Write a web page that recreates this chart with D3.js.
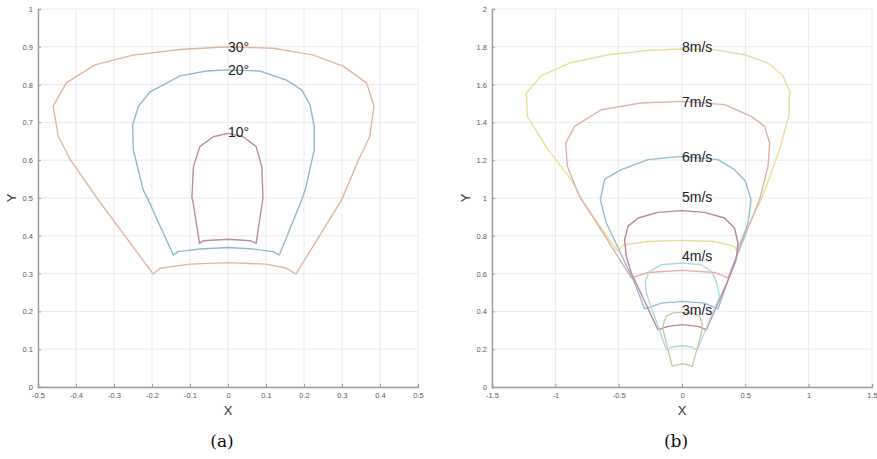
<!DOCTYPE html>
<html>
<head>
<meta charset="utf-8">
<script src="https://cdn.jsdelivr.net/npm/d3@7"></script>
<style>
body{margin:0;background:#fff;}
svg{display:block;}
</style>
</head>
<body>
<svg id="chart" width="877" height="459"></svg>
<script>
// ---------- data: panel (a) ----------
const ticksAX = [-0.5,-0.4,-0.3,-0.2,-0.1,0,0.1,0.2,0.3,0.4,0.5];
const ticksAY = [0,0.1,0.2,0.3,0.4,0.5,0.6,0.7,0.8,0.9,1];
const labelsA = ["30°","20°","10°"];
const labelYA = [0.9,0.839,0.675];
const curve30 = [[-0.197,0.299],[-0.345,0.5],[-0.414,0.6],[-0.447,0.664],[-0.46,0.743],[-0.425,0.805],[-0.35,0.852],[-0.25,0.878],[-0.126,0.893],[0,0.9],[0.119,0.896],[0.225,0.878],[0.303,0.849],[0.365,0.804],[0.384,0.743],[0.373,0.662],[0.343,0.6],[0.299,0.495],[0.179,0.299],[0.154,0.314],[0.1,0.325],[0,0.329],[-0.1,0.325],[-0.179,0.314]];
const curve20 = [[-0.144,0.349],[-0.21,0.495],[-0.223,0.521],[-0.249,0.627],[-0.251,0.693],[-0.236,0.742],[-0.205,0.781],[-0.126,0.823],[-0.056,0.836],[0,0.839],[0.084,0.836],[0.154,0.812],[0.194,0.786],[0.216,0.746],[0.227,0.689],[0.227,0.627],[0.203,0.521],[0.194,0.495],[0.135,0.349],[0.119,0.358],[0.067,0.365],[0,0.369],[-0.074,0.365],[-0.131,0.358]];
const curve10 = [[-0.075,0.38],[-0.093,0.495],[-0.095,0.5],[-0.091,0.583],[-0.074,0.636],[-0.039,0.662],[0,0.671],[0.04,0.662],[0.074,0.636],[0.089,0.583],[0.092,0.5],[0.074,0.38],[0.058,0.387],[0,0.391],[-0.065,0.387]];
const colorsA = ["#e2b59f","#8fbccb","#bd8ba3"];

// ---------- data: panel (b) ----------
const ticksBX = [-1.5,-1,-0.5,0,0.5,1,1.5];
const ticksBY = [0,0.2,0.4,0.6,0.8,1,1.2,1.4,1.6,1.8,2];
const labelsB = ["8m/s","7m/s","6m/s","5m/s","4m/s","3m/s"];
const labelYB = [1.797,1.506,1.217,1.007,0.695,0.405];
const speed8 = [[-0.51,0.72],[-0.795,0.992],[-0.874,1.097],[-1.058,1.256],[-1.221,1.432],[-1.229,1.556],[-1.11,1.647],[-0.887,1.714],[-0.584,1.758],[-0.268,1.781],[0,1.788],[0.258,1.785],[0.494,1.758],[0.679,1.714],[0.797,1.647],[0.849,1.564],[0.845,1.441],[0.77,1.256],[0.665,1.061],[0.626,0.992],[0.428,0.726],[0.415,0.744],[0.258,0.77],[0,0.776],[-0.268,0.77],[-0.453,0.753]];
const speed7 = [[-0.4,0.577],[-0.6,0.79],[-0.808,1.008],[-0.905,1.167],[-0.918,1.291],[-0.848,1.379],[-0.637,1.467],[-0.321,1.503],[0,1.511],[0.336,1.494],[0.547,1.432],[0.652,1.379],[0.692,1.291],[0.679,1.167],[0.613,0.992],[0.363,0.577],[0.258,0.606],[0,0.617],[-0.268,0.606]];
const speed6 = [[-0.295,0.413],[-0.374,0.55],[-0.597,0.868],[-0.645,0.99],[-0.61,1.1],[-0.479,1.15],[-0.268,1.203],[0,1.22],[0.284,1.203],[0.415,1.15],[0.5,1.09],[0.545,0.99],[0.521,0.868],[0.284,0.413],[0.178,0.444],[0,0.453],[-0.163,0.444]];
const speed5 = [[-0.19,0.303],[-0.4,0.603],[-0.44,0.691],[-0.453,0.779],[-0.426,0.85],[-0.347,0.894],[-0.19,0.924],[0,0.933],[0.178,0.924],[0.336,0.894],[0.415,0.841],[0.442,0.762],[0.428,0.674],[0.376,0.585],[0.192,0.303],[0.126,0.321],[0,0.33],[-0.11,0.321]];
const speed4 = [[-0.124,0.197],[-0.282,0.497],[-0.29,0.56],[-0.256,0.612],[-0.163,0.647],[0,0.656],[0.152,0.647],[0.231,0.612],[0.27,0.56],[0.297,0.479],[0.12,0.197],[0.073,0.212],[0,0.218],[-0.084,0.212]];
const speed3 = [[-0.077,0.109],[-0.15,0.303],[-0.145,0.339],[-0.124,0.374],[-0.071,0.392],[0,0.395],[0.087,0.392],[0.139,0.374],[0.158,0.339],[0.16,0.303],[0.081,0.109],[0.047,0.118],[0,0.123],[-0.032,0.118]];
const colorsB = ["#e8de9c","#e1b0a8","#92bfd3","#bd84a0","#b0dadf","#cccb9f"];

const svg = d3.select("#chart");
svg.append("rect").attr("width",877).attr("height",459).attr("fill","#fff");

function panel(opt){
  const g = svg.append("g");
  const x = d3.scaleLinear().domain(opt.xd).range([opt.x0, opt.x1]);
  const y = d3.scaleLinear().domain(opt.yd).range([opt.y1, opt.y0]);
  // grid
  g.append("g").selectAll("line").data(opt.tx).join("line")
    .attr("x1",d=>x(d)).attr("x2",d=>x(d)).attr("y1",opt.y0).attr("y2",opt.y1)
    .attr("stroke","#e9e9e9").attr("stroke-width",1);
  g.append("g").selectAll("line").data(opt.ty).join("line")
    .attr("y1",d=>y(d)).attr("y2",d=>y(d)).attr("x1",opt.x0).attr("x2",opt.x1)
    .attr("stroke","#e9e9e9").attr("stroke-width",1);
  // axes
  const ax = g.append("g").attr("transform",`translate(0,${opt.y1})`)
    .call(d3.axisBottom(x).tickValues(opt.tx).tickSize(-3).tickPadding(6).tickFormat(d=>String(d)));
  const ay = g.append("g").attr("transform",`translate(${opt.x0},0)`)
    .call(d3.axisLeft(y).tickValues(opt.ty).tickSize(-3).tickPadding(5).tickFormat(d=>String(d)));
  [ax,ay].forEach(a=>{
    a.select(".domain").attr("stroke","#9c9c9c").attr("stroke-width",1.4);
    a.selectAll(".tick line").attr("stroke","#9c9c9c");
    a.selectAll("text").attr("fill","#5a5a5a").style("font-family","Liberation Sans, Arial, sans-serif").style("font-size","7.5px");
  });
  // curves
  const line = d3.line().x(d=>x(d[0])).y(d=>y(d[1])).curve(d3.curveLinearClosed);
  opt.curves.forEach((c,i)=>{
    g.append("path").attr("d",line(c)).attr("fill","none")
      .attr("stroke",opt.colors[i]).attr("stroke-width",1.4).attr("stroke-linejoin","round");
  });
  // curve labels
  opt.labels.forEach((t,i)=>{
    g.append("text").attr("x",x(0)).attr("y",y(opt.labelY[i])).attr("dy","0.36em")
      .attr("fill","#222").style("font-family","Liberation Sans, Arial, sans-serif")
      .style("font-size","14px").text(t);
  });
  // axis titles
  g.append("text").attr("x",(opt.x0+opt.x1)/2).attr("y",415).attr("text-anchor","middle")
    .attr("fill","#333").style("font-family","Liberation Sans, Arial, sans-serif").style("font-size","13px").text("X");
  g.append("text").attr("transform",`translate(${opt.x0-22},${(opt.y0+opt.y1)/2}) rotate(-90)`)
    .attr("text-anchor","middle").attr("fill","#333")
    .style("font-family","Liberation Sans, Arial, sans-serif").style("font-size","13px").text("Y");
  // caption
  g.append("text").attr("x",x(0)-6).attr("y",447).attr("text-anchor","middle")
    .attr("fill","#111").style("font-family","DejaVu Serif, Liberation Serif, serif").style("font-size","17px").text(opt.caption);
}

panel({x0:38,x1:418,y0:9,y1:387,xd:[-0.5,0.5],yd:[0,1],tx:ticksAX,ty:ticksAY,
  curves:[curve30,curve20,curve10],colors:colorsA,labels:labelsA,labelY:labelYA,caption:"(a)"});
panel({x0:492,x1:872,y0:9,y1:387,xd:[-1.5,1.5],yd:[0,2],tx:ticksBX,ty:ticksBY,
  curves:[speed8,speed7,speed6,speed5,speed4,speed3],colors:colorsB,labels:labelsB,labelY:labelYB,caption:"(b)"});
</script>
</body>
</html>
